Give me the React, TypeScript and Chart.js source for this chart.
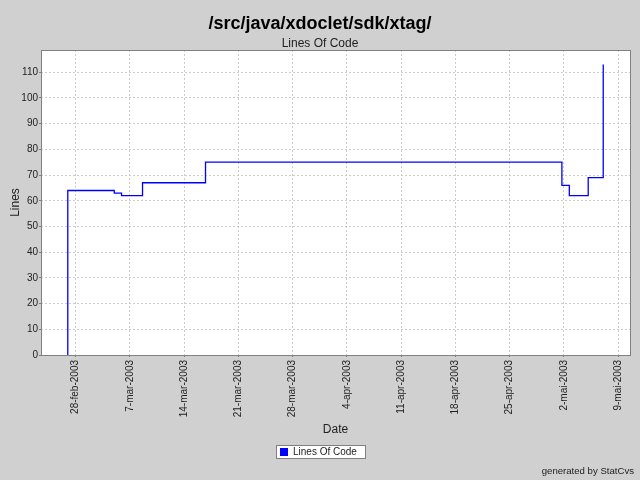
import React, { useEffect, useRef } from "react";
import { Chart, registerables } from "chart.js";

Chart.register(...registerables);

const chartTitle = "/src/java/xdoclet/sdk/xtag/";
const chartSubtitle = "Lines Of Code";
const seriesName = "Lines Of Code";
const xAxisTitle = "Date";
const yAxisTitle = "Lines";
const footerText = "generated by StatCvs";

// commit times (UTC) and lines of code after each commit
const commitTimes = [
  "2003-02-27T00:00:00Z",
  "2003-02-27T00:00:00Z",
  "2003-03-05T00:00:00Z",
  "2003-03-05T22:30:00Z",
  "2003-03-08T15:30:00Z",
  "2003-03-16T18:30:00Z",
  "2003-05-01T18:00:00Z",
  "2003-05-02T17:00:00Z",
  "2003-05-05T03:30:00Z",
  "2003-05-07T02:00:00Z",
];
const linesOfCode = [0, 64, 63, 62, 67, 75, 66, 62, 69, 113];

const xTickDates = [
  "2003-02-28T00:00:00Z",
  "2003-03-07T00:00:00Z",
  "2003-03-14T00:00:00Z",
  "2003-03-21T00:00:00Z",
  "2003-03-28T00:00:00Z",
  "2003-04-04T00:00:00Z",
  "2003-04-11T00:00:00Z",
  "2003-04-18T00:00:00Z",
  "2003-04-25T00:00:00Z",
  "2003-05-02T00:00:00Z",
  "2003-05-09T00:00:00Z",
];
const xTickLabels = [
  "28-feb-2003",
  "7-mar-2003",
  "14-mar-2003",
  "21-mar-2003",
  "28-mar-2003",
  "4-apr-2003",
  "11-apr-2003",
  "18-apr-2003",
  "25-apr-2003",
  "2-mai-2003",
  "9-mai-2003",
];
const yTicks = [0, 10, 20, 30, 40, 50, 60, 70, 80, 90, 100, 110];

const FONT = "'Liberation Sans', Arial, Helvetica, sans-serif";
const TEXT = "#222222";

const toMs = (s: string) => Date.parse(s);

export default function App() {
  const ref = useRef<HTMLCanvasElement>(null);

  useEffect(() => {
    const xs = commitTimes.map(toMs);
    const xMinData = Math.min(...xs);
    const xMaxData = Math.max(...xs);
    const xSpan = xMaxData - xMinData;
    const xMin = xMinData - xSpan * 0.05;
    const xMax = xMaxData + xSpan * 0.05;
    const yMax = Math.max(...linesOfCode) * 1.05;

    const decor = {
      id: "decor",
      beforeDraw(chart: any) {
        const { ctx, chartArea: a, width, height } = chart;
        ctx.save();
        ctx.fillStyle = "#d0d0d0";
        ctx.fillRect(0, 0, width, height);
        ctx.fillStyle = "#ffffff";
        ctx.fillRect(a.left, a.top, a.right - a.left, a.bottom - a.top);
        ctx.restore();
      },
      afterDatasetsDraw(chart: any) {
        const { ctx, chartArea: a } = chart;
        ctx.save();
        ctx.strokeStyle = "#808080";
        ctx.lineWidth = 1;
        ctx.strokeRect(a.left + 0.5, a.top + 0.5, a.right - a.left, a.bottom - a.top);
        ctx.restore();
      },
      afterDraw(chart: any) {
        const { ctx } = chart;
        ctx.save();
        ctx.fillStyle = "#000000";
        ctx.textAlign = "center";
        ctx.textBaseline = "alphabetic";
        ctx.font = `bold 18px ${FONT}`;
        ctx.fillText(chartTitle, 320, 29);
        ctx.font = `12px ${FONT}`;
        ctx.fillStyle = TEXT;
        ctx.fillText(chartSubtitle, 320, 47);

        // legend
        ctx.font = `10px ${FONT}`;
        const tw = ctx.measureText(seriesName).width;
        const bw = Math.round(4 + 8 + 5 + tw + 8);
        const bx = Math.round(320 - bw / 2);
        const by = 445;
        const bh = 13;
        ctx.fillStyle = "#ffffff";
        ctx.fillRect(bx, by, bw, bh);
        ctx.strokeStyle = "#808080";
        ctx.lineWidth = 1;
        ctx.strokeRect(bx + 0.5, by + 0.5, bw, bh);
        ctx.fillStyle = "#0000ff";
        ctx.fillRect(bx + 4, by + 3, 8, 8);
        ctx.fillStyle = TEXT;
        ctx.textAlign = "left";
        ctx.fillText(seriesName, bx + 17, 455);

        // footer
        ctx.font = `9.6px ${FONT}`;
        ctx.textAlign = "right";
        ctx.fillText(footerText, 634, 474);
        ctx.restore();
      },
    };

    const chart = new Chart(ref.current as HTMLCanvasElement, {
      type: "line",
      data: {
        datasets: [
          {
            label: seriesName,
            data: xs.map((x, i) => ({ x, y: linesOfCode[i] })),
            borderColor: "#0000ff",
            backgroundColor: "#0000ff",
            borderWidth: 1.3,
            pointRadius: 0,
            stepped: "before",
            fill: false,
          },
        ],
      },
      options: {
        responsive: false,
        animation: false,
        events: [],
        layout: { padding: { top: 50, right: 10, bottom: 0, left: 0 } },
        plugins: {
          legend: { display: false },
          title: { display: false },
          tooltip: { enabled: false },
        },
        scales: {
          x: {
            type: "linear",
            min: xMin,
            max: xMax,
            afterBuildTicks: (s: any) => {
              s.ticks = xTickDates.map((d) => ({ value: toMs(d) }));
            },
            afterFit: (s: any) => {
              s.height = 125;
            },
            ticks: {
              autoSkip: false,
              minRotation: 90,
              maxRotation: 90,
              padding: 3,
              color: TEXT,
              font: { family: FONT, size: 10 },
              callback: (_v: any, i: number) => xTickLabels[i],
            },
            grid: {
              color: "#cccccc",
              lineWidth: 1,
              drawTicks: true,
              tickLength: 2,
              tickColor: "#808080",
              tickBorderDash: [],
            },
            border: { display: false, dash: [2, 2] },
            title: {
              display: true,
              text: xAxisTitle,
              color: TEXT,
              font: { family: FONT, size: 12 },
              padding: { top: 0, bottom: 43.5 },
            },
          },
          y: {
            type: "linear",
            min: 0,
            max: yMax,
            afterBuildTicks: (s: any) => {
              s.ticks = yTicks.map((v) => ({ value: v }));
            },
            afterFit: (s: any) => {
              s.width = 41;
            },
            ticks: {
              padding: 1,
              color: TEXT,
              font: { family: FONT, size: 10 },
              callback: (v: any) => String(v),
            },
            grid: {
              color: "#cccccc",
              lineWidth: 1,
              drawTicks: true,
              tickLength: 2,
              tickColor: "#808080",
              tickBorderDash: [],
            },
            border: { display: false, dash: [2, 2] },
            title: {
              display: true,
              text: yAxisTitle,
              color: TEXT,
              font: { family: FONT, size: 12 },
              padding: { top: 8, bottom: 0 },
            },
          },
        },
      },
      plugins: [decor],
    } as any);

    return () => chart.destroy();
  }, []);

  return (
    <div style={{ position: "absolute", left: 0, top: 0, width: 640, height: 480 }}>
      <canvas
        ref={ref}
        width={640}
        height={480}
        style={{ display: "block", width: 640, height: 480 }}
      />
    </div>
  );
}
